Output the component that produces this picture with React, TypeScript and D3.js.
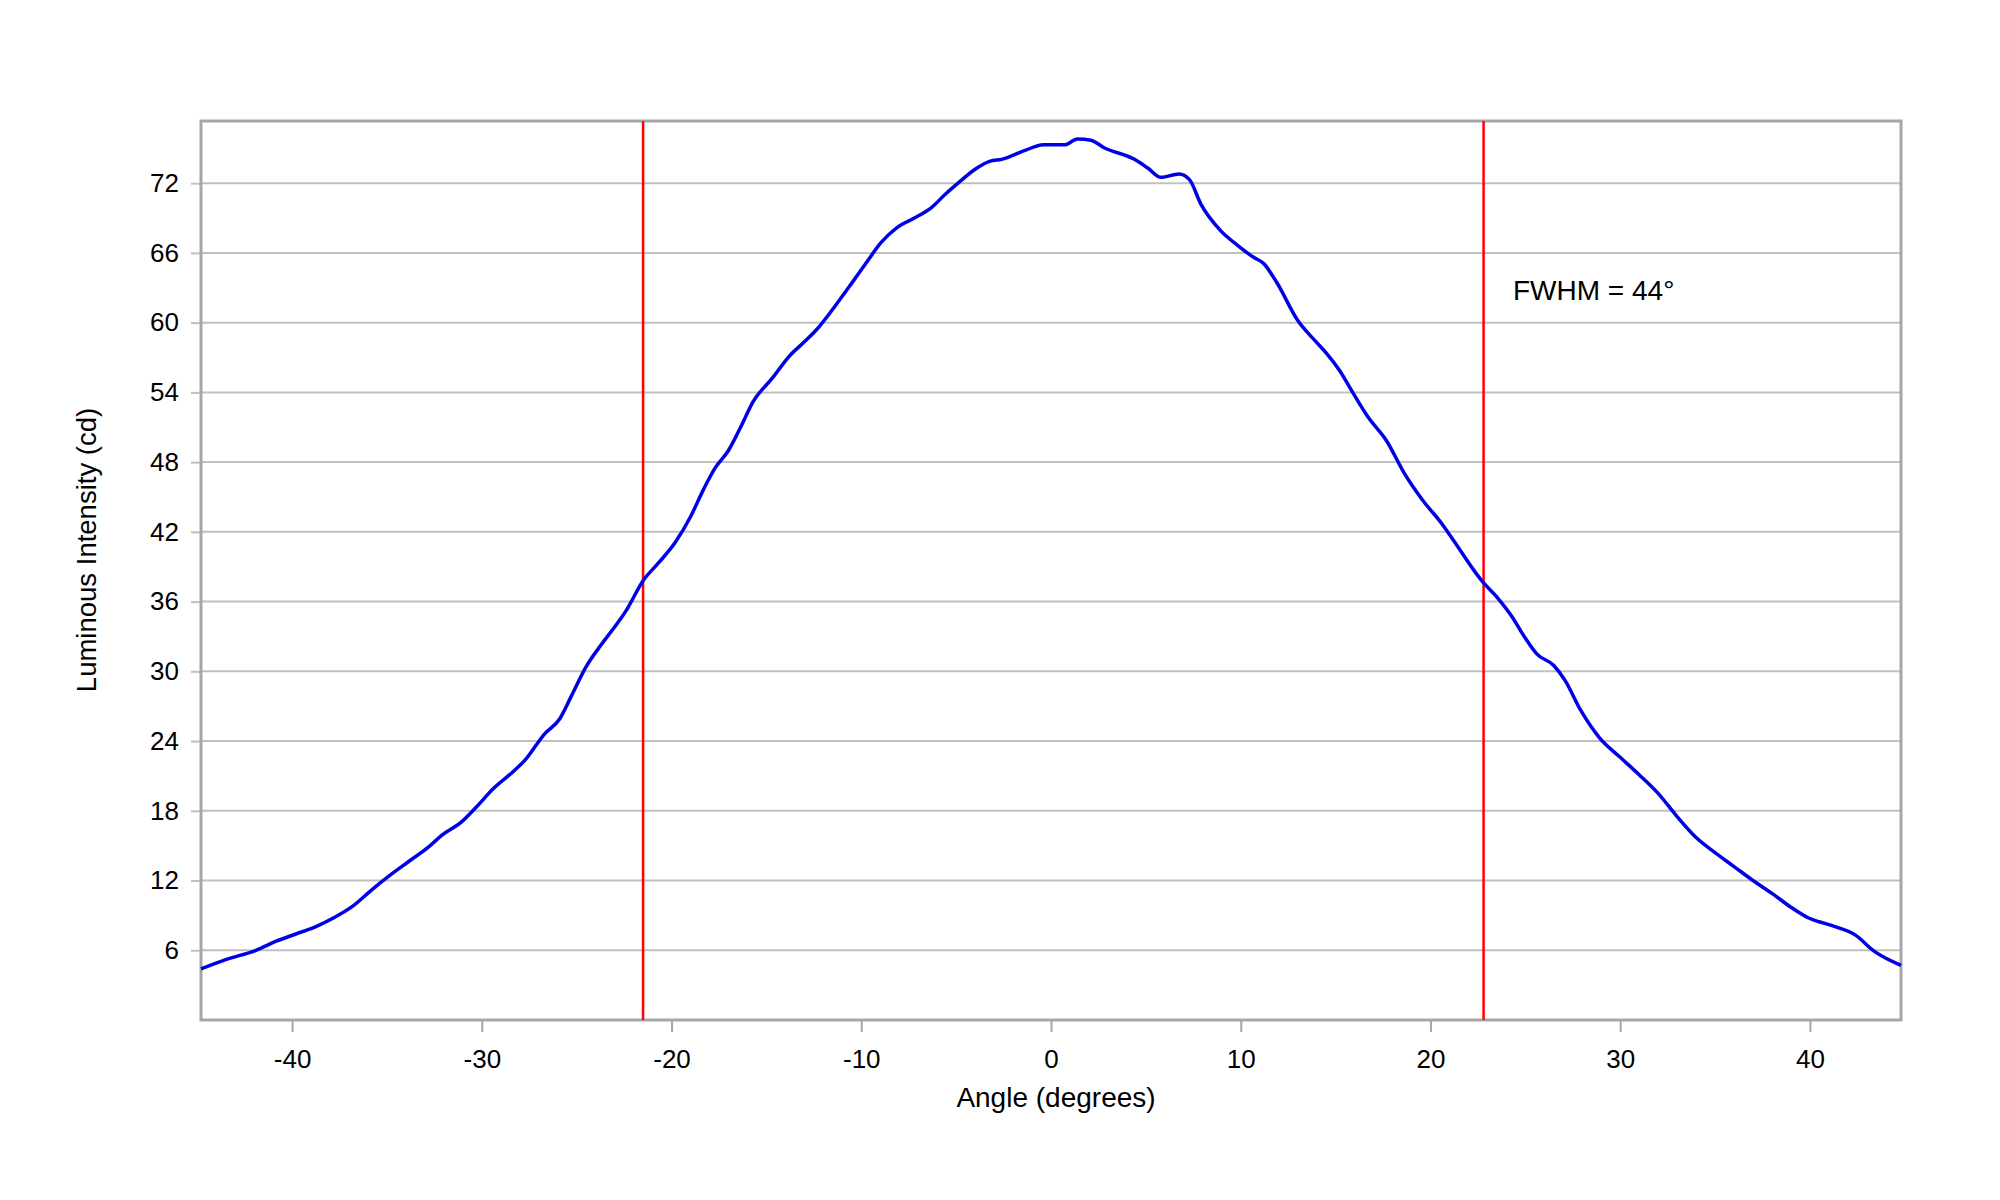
import { useEffect, useRef } from 'react';
import * as d3 from 'd3';

const angles = [
  -44.8, -43.5, -41.9, -40.8, -39.8, -38.8, -37.8, -36.8, -35.8, -34.8,
  -33.8, -32.8, -32.1, -31.1, -30.3, -29.4, -28.4, -27.7, -26.7, -25.9,
  -25.3, -24.5, -23.7, -23.1, -22.4, -21.5, -20.7, -19.8, -19.0, -18.3,
  -17.7, -17.0, -16.3, -15.7, -14.7, -13.8, -12.9, -12.3, -11.3, -10.5,
  -9.8, -8.95, -8.1, -7.2, -6.3, -5.6, -4.9, -4.0, -3.2, -2.6,
  -1.4, -0.4, 0.7, 1.4, 2.1, 2.8, 4.4, 5.1, 5.8, 6.75,
  7.3, 7.9, 8.95, 9.8, 10.7, 11.2, 11.9, 13.0, 14.0, 14.5,
  15.2, 15.9, 16.7, 17.7, 18.6, 19.6, 20.6, 21.2, 22.7, 23.6,
  24.3, 24.9, 25.6, 26.5, 27.1, 27.9, 28.9, 30.0, 31.0, 32.0,
  33.0, 34.0, 35.0, 36.0, 37.0, 38.0, 39.0, 39.9, 41.0, 42.4,
  43.4, 44.8,
];
const intensity = [
  4.4, 5.2, 6.0, 6.8, 7.4, 8.0, 8.8, 9.8, 11.2, 12.5,
  13.7, 14.9, 15.9, 17.0, 18.3, 19.9, 21.3, 22.4, 24.6, 25.9,
  27.8, 30.4, 32.3, 33.6, 35.2, 37.8, 39.3, 41.1, 43.3, 45.7,
  47.5, 49.0, 51.2, 53.2, 55.2, 57.1, 58.5, 59.5, 61.6, 63.4,
  65.0, 66.9, 68.2, 69.0, 69.9, 71.0, 72.0, 73.2, 73.9, 74.05,
  74.8, 75.3, 75.3, 75.8, 75.7, 75.05, 74.05, 73.3, 72.5, 72.8,
  72.3, 70.2, 67.9, 66.7, 65.6, 65.1, 63.45, 60.2, 58.3, 57.4,
  55.9, 54.0, 51.9, 49.8, 47.1, 44.7, 42.7, 41.3, 37.8, 36.2,
  34.7, 33.1, 31.5, 30.5, 29.2, 26.7, 24.3, 22.6, 21.1, 19.5,
  17.5, 15.7, 14.4, 13.2, 12.0, 10.9, 9.7, 8.8, 8.2, 7.3,
  5.9, 4.7,
];
const halfMaxAngles = [-21.5, 22.8];
const xTicks = [-40, -30, -20, -10, 0, 10, 20, 30, 40];
const yTicks = [6, 12, 18, 24, 30, 36, 42, 48, 54, 60, 66, 72];
const fwhmLabel = 'FWHM = 44°';

const W = 2000;
const H = 1200;
const margin = { left: 201, right: 99, top: 121, bottom: 180 };

export default function App() {
  const svgRef = useRef<SVGSVGElement>(null);

  useEffect(() => {
    if (!svgRef.current) return;
    const svg = d3.select(svgRef.current);
    svg.selectAll('*').remove();

    const x = d3.scaleLinear().domain([-44.8, 44.8]).range([margin.left, W - margin.right]);
    const y = d3.scaleLinear().domain([0, 77.35]).range([H - margin.bottom, margin.top]);
    const font = "'Liberation Sans', Arial, sans-serif";

    // horizontal grid
    svg.append('g')
      .selectAll('line')
      .data(yTicks)
      .enter()
      .append('line')
      .attr('x1', margin.left)
      .attr('x2', W - margin.right)
      .attr('y1', d => y(d))
      .attr('y2', d => y(d))
      .attr('stroke', '#c0c0c0')
      .attr('stroke-width', 2);

    // bottom axis (plain hyphen for negatives, like the original)
    const gx = svg.append('g')
      .attr('transform', `translate(0,${H - margin.bottom})`)
      .call(d3.axisBottom(x).tickValues(xTicks).tickSize(12).tickFormat(d => String(d)));
    gx.select('.domain').remove();
    gx.selectAll('line').attr('stroke', '#a6a6a6').attr('stroke-width', 2);
    gx.selectAll('text')
      .attr('y', 48)
      .attr('dy', 0)
      .attr('fill', '#000')
      .style('font-family', font)
      .style('font-size', '26px');

    // left axis
    const gy = svg.append('g')
      .attr('transform', `translate(${margin.left},0)`)
      .call(d3.axisLeft(y).tickValues(yTicks).tickSize(10).tickPadding(12));
    gy.select('.domain').remove();
    gy.selectAll('line').attr('stroke', '#c0c0c0').attr('stroke-width', 2);
    gy.selectAll('text')
      .attr('fill', '#000')
      .style('font-family', font)
      .style('font-size', '26px');

    // frame
    svg.append('rect')
      .attr('x', margin.left)
      .attr('y', margin.top)
      .attr('width', W - margin.left - margin.right)
      .attr('height', H - margin.top - margin.bottom)
      .attr('fill', 'none')
      .attr('stroke', '#a6a6a6')
      .attr('stroke-width', 3);

    // half-maximum markers
    svg.append('g')
      .selectAll('line')
      .data(halfMaxAngles)
      .enter()
      .append('line')
      .attr('x1', d => x(d))
      .attr('x2', d => x(d))
      .attr('y1', margin.top)
      .attr('y2', H - margin.bottom)
      .attr('stroke', '#ff0000')
      .attr('stroke-width', 2.5);

    const points = angles.map((a, i) => ({ a, v: intensity[i] }));
    const line = d3.line<{ a: number; v: number }>()
      .x(d => x(d.a))
      .y(d => y(d.v))
      .curve(d3.curveMonotoneX);

    svg.append('path')
      .datum(points)
      .attr('d', line)
      .attr('fill', 'none')
      .attr('stroke', '#0000e6')
      .attr('stroke-width', 3.5)
      .attr('stroke-linejoin', 'round');

    svg.append('text')
      .attr('x', 1513)
      .attr('y', 300)
      .attr('fill', '#000')
      .style('font-family', font)
      .style('font-size', '28px')
      .text(fwhmLabel);

    svg.append('text')
      .attr('x', (margin.left + W - margin.right) / 2 + 5)
      .attr('y', 1107)
      .attr('text-anchor', 'middle')
      .attr('fill', '#000')
      .style('font-family', font)
      .style('font-size', '28px')
      .text('Angle (degrees)');

    svg.append('text')
      .attr('transform', `translate(96,550) rotate(-90)`)
      .attr('text-anchor', 'middle')
      .attr('fill', '#000')
      .style('font-family', font)
      .style('font-size', '27.5px')
      .text('Luminous Intensity (cd)');
  }, []);

  return (
    <div style={{ position: 'absolute', left: 0, top: 0, width: W, height: H, background: '#fff' }}>
      <svg ref={svgRef} width={W} height={H}></svg>
    </div>
  );
}
